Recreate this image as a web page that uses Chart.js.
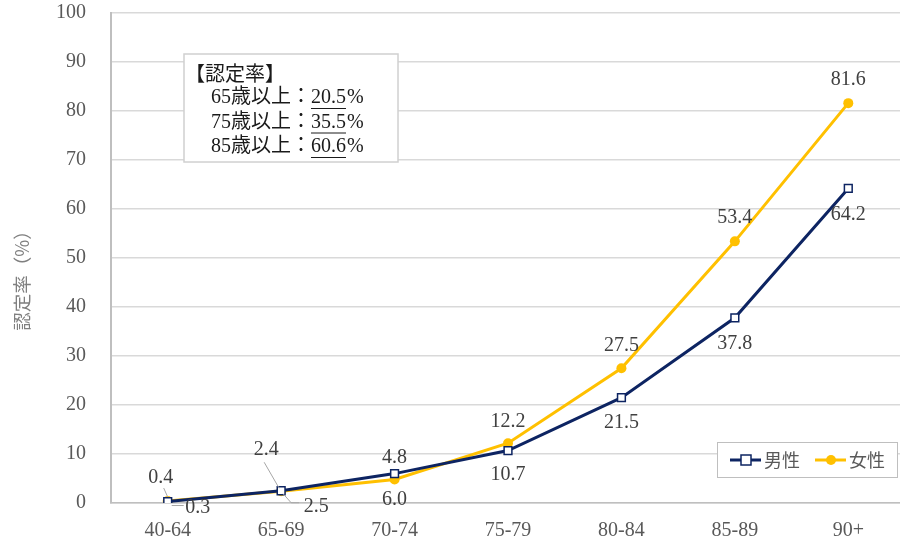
<!DOCTYPE html>
<html>
<head>
<meta charset="utf-8">
<script src="https://cdn.jsdelivr.net/npm/chart.js@4/dist/chart.umd.min.js"></script>
<style>
  html, body { margin: 0; padding: 0; background: #fff; overflow: hidden; }
  #wrap { width: 912px; height: 546px; position: relative; }
</style>
</head>
<body>
<div id="wrap"><canvas id="c"></canvas></div>
<script>
// Age groups and certification rates (%)
const ageGroups = ['40-64', '65-69', '70-74', '75-79', '80-84', '85-89', '90+'];
const maleRates = [0.3, 2.5, 6.0, 10.7, 21.5, 37.8, 64.2];
const femaleRates = [0.4, 2.4, 4.8, 12.2, 27.5, 53.4, 81.6];
const yTicks = [0, 10, 20, 30, 40, 50, 60, 70, 80, 90, 100];

// Summary box contents
const summaryTitle = '【認定率】';
const summaryAges = ['65歳以上', '75歳以上', '85歳以上'];
const summaryRates = ['20.5', '35.5', '60.6'];

const NAVY = '#0d2462';
const GOLD = '#ffc000';
const SERIF = "'Liberation Serif', 'Noto Sans CJK JP', serif";
const SANS = "'Noto Sans CJK JP', 'Noto Sans', sans-serif";

// Value label placement relative to each point: [dx, dy]
const labelPlacement = {
  female: [[-7, -23], [-15, -41], [0, -22], [0, -21], [0, -23], [0, -24], [0, -23]],
  male:   [[30, 6], [35, 16], [0, 26], [0, 24], [0, 25], [0, 26], [0, 26]]
};
// Leader lines (polylines relative to the point) for crowded labels
const leaders = {
  female: { 0: [[-4, -13], [0, -4]], 1: [[-17, -29], [-2, -3]] },
  male:   { 0: [[4, 4], [16, 4]], 1: [[2, 3], [10, 12], [18, 12]] }
};

const overlay = {
  id: 'overlay',
  afterDatasetsDraw(chart) {
    const ctx = chart.ctx;
    const area = chart.chartArea;
    const keys = ['male', 'female'];

    // leader lines
    ctx.save();
    ctx.strokeStyle = '#a6a6a6';
    ctx.lineWidth = 1;
    keys.forEach((k, di) => {
      const meta = chart.getDatasetMeta(di);
      Object.keys(leaders[k]).forEach(idx => {
        const p = meta.data[idx];
        const pts = leaders[k][idx];
        ctx.beginPath();
        pts.forEach((d, j) => {
          const x = p.x + d[0], y = p.y + d[1];
          if (j === 0) ctx.moveTo(x, y); else ctx.lineTo(x, y);
        });
        ctx.stroke();
      });
    });
    ctx.restore();

    // value labels
    ctx.save();
    ctx.font = '20px ' + SERIF;
    ctx.fillStyle = '#404040';
    ctx.textAlign = 'center';
    ctx.textBaseline = 'middle';
    keys.forEach((k, di) => {
      const meta = chart.getDatasetMeta(di);
      const values = chart.data.datasets[di].data;
      meta.data.forEach((p, i) => {
        const off = labelPlacement[k][i];
        ctx.fillText(values[i].toFixed(1), p.x + off[0], p.y + off[1]);
      });
    });
    ctx.restore();

    // y-axis title
    ctx.save();
    ctx.translate(22, 276);
    ctx.rotate(-Math.PI / 2);
    ctx.font = '18.5px ' + SANS;
    ctx.fillStyle = '#7f7f7f';
    ctx.textAlign = 'center';
    ctx.textBaseline = 'middle';
    ctx.fillText('認定率（%）', 0, 0);
    ctx.restore();

    // summary box
    const bx = area.left + 73, by = area.top + 41, bw = 214, bh = 108;
    ctx.save();
    ctx.fillStyle = '#ffffff';
    ctx.fillRect(bx, by, bw, bh);
    ctx.strokeStyle = '#d0d0d0';
    ctx.lineWidth = 1.5;
    ctx.strokeRect(bx, by, bw, bh);
    ctx.fillStyle = '#1a1a1a';
    ctx.textBaseline = 'middle';
    ctx.textAlign = 'left';
    ctx.font = '20px ' + SANS;
    ctx.fillText(summaryTitle, bx + 1, by + 19);
    summaryAges.forEach((a, i) => {
      const y = by + 44 + i * 24.5;
      let x = bx + 27;
      ctx.font = '20px ' + SERIF;
      ctx.fillText(a, x, y);
      x += ctx.measureText(a).width;
      ctx.fillText('：', x, y);
      x += ctx.measureText('：').width;
      ctx.fillText(summaryRates[i], x, y);
      const w = ctx.measureText(summaryRates[i]).width;
      ctx.beginPath();
      ctx.strokeStyle = '#1a1a1a';
      ctx.lineWidth = 1;
      ctx.moveTo(x, y + 10.5);
      ctx.lineTo(x + w, y + 10.5);
      ctx.stroke();
      x += w;
      ctx.fillText('%', x + 1, y);
    });
    ctx.restore();

    // legend
    const lx = area.right - 188, ly = area.bottom - 61, lw = 180, lh = 35;
    ctx.save();
    ctx.fillStyle = '#ffffff';
    ctx.fillRect(lx, ly, lw, lh);
    ctx.strokeStyle = '#bfbfbf';
    ctx.lineWidth = 1;
    ctx.strokeRect(lx + 0.5, ly + 0.5, lw, lh);
    const cy = ly + lh / 2 + 0.5;
    ctx.font = '18px ' + SANS;
    ctx.fillStyle = '#595959';
    ctx.textBaseline = 'middle';
    ctx.textAlign = 'left';
    chart.data.datasets.forEach((ds, i) => {
      const sx = lx + 13 + i * 85;
      ctx.beginPath();
      ctx.strokeStyle = ds.borderColor;
      ctx.lineWidth = 3;
      ctx.moveTo(sx, cy);
      ctx.lineTo(sx + 31, cy);
      ctx.stroke();
      if (i === 0) {
        ctx.fillStyle = '#ffffff';
        ctx.fillRect(sx + 11, cy - 5, 10, 10);
        ctx.strokeStyle = NAVY;
        ctx.lineWidth = 1.5;
        ctx.strokeRect(sx + 11, cy - 5, 10, 10);
      } else {
        ctx.beginPath();
        ctx.fillStyle = GOLD;
        ctx.arc(sx + 16, cy, 5, 0, Math.PI * 2);
        ctx.fill();
      }
      ctx.fillStyle = '#595959';
      ctx.fillText(ds.label, sx + 34, cy);
    });
    ctx.restore();
  }
};

const chart = new Chart(document.getElementById('c'), {
  type: 'line',
  data: {
    labels: ageGroups,
    datasets: [
      {
        label: '男性',
        data: maleRates,
        borderColor: NAVY,
        backgroundColor: '#ffffff',
        borderWidth: 3,
        pointStyle: 'rect',
        pointRadius: 5.5,
        pointBorderWidth: 1.5,
        pointBorderColor: NAVY,
        pointBackgroundColor: '#ffffff',
        tension: 0
      },
      {
        label: '女性',
        data: femaleRates,
        borderColor: GOLD,
        backgroundColor: GOLD,
        borderWidth: 3,
        pointStyle: 'circle',
        pointRadius: 5,
        pointBorderWidth: 0,
        pointBackgroundColor: GOLD,
        tension: 0
      }
    ]
  },
  options: {
    responsive: true,
    maintainAspectRatio: false,
    animation: false,
    layout: { padding: { top: 13, right: 0, left: 0, bottom: 0 } },
    plugins: {
      legend: { display: false },
      tooltip: { enabled: false }
    },
    scales: {
      x: {
        offset: true,
        grid: { display: false, drawTicks: false },
        border: { color: '#bfbfbf', width: 1.5 },
        ticks: { font: { family: SERIF, size: 20 }, color: '#595959', padding: 16, maxRotation: 0 },
        afterFit(scale) { scale.height = 43; }
      },
      y: {
        min: 0,
        max: 100,
        afterBuildTicks(scale) { scale.ticks = yTicks.map(v => ({ value: v })); },
        grid: { color: '#d9d9d9', lineWidth: 1.5, drawTicks: false },
        border: { color: '#bfbfbf', width: 2 },
        ticks: { font: { family: SERIF, size: 20 }, color: '#595959', padding: 25 },
        afterFit(scale) {
          scale.width = 111;
          scale.paddingTop = 0;
          scale.paddingBottom = 0;
        }
      }
    }
  },
  plugins: [overlay]
});
</script>
</body>
</html>
